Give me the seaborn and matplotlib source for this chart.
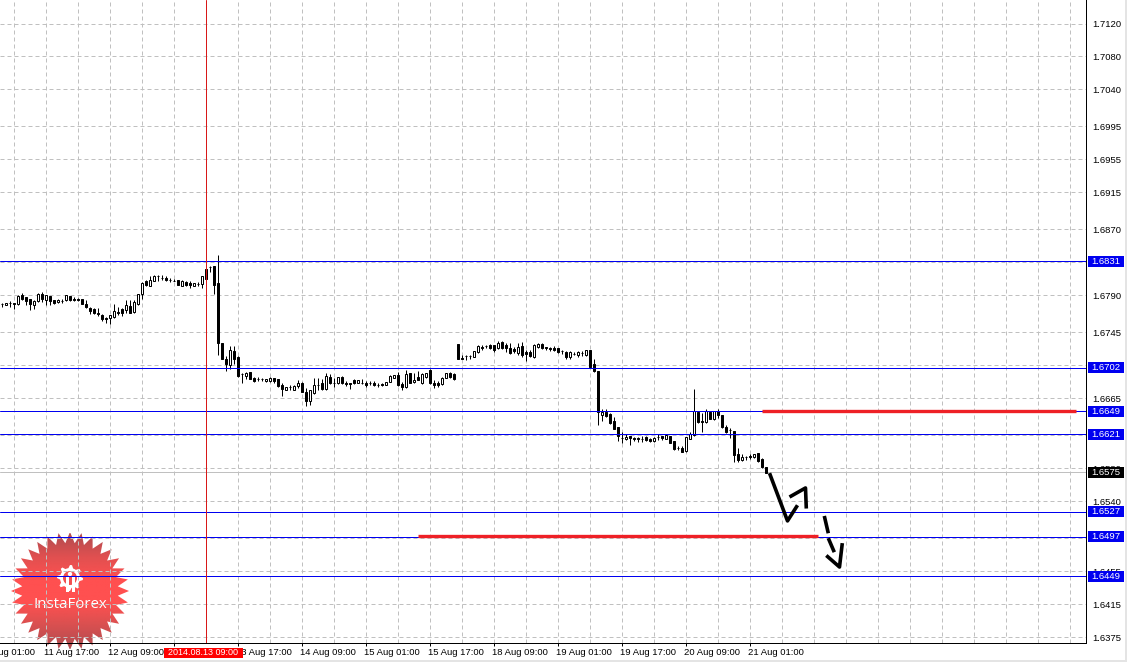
import numpy as np
import pandas as pd
import matplotlib
matplotlib.use("Agg")
import matplotlib.pyplot as plt
from matplotlib.colors import LinearSegmentedColormap
from matplotlib.patches import Polygon, Rectangle, Circle
from matplotlib.transforms import blended_transform_factory
import seaborn as sns

# candles, prices in 1/10000
opens = [
    16779, 16778, 16780, 16780, 16779, 16790, 16788, 16785, 16778, 16783,
    16791, 16784, 16789, 16784, 16782, 16783, 16784, 16789, 16786, 16785,
    16785, 16779, 16775, 16773, 16769, 16766, 16762, 16762, 16763, 16770,
    16773, 16772, 16777, 16770, 16779, 16792, 16807, 16801, 16807, 16813,
    16811, 16811, 16809, 16807, 16809, 16801, 16806, 16805, 16801, 16804,
    16804, 16822, 16824, 16825, 16805, 16732, 16713, 16705, 16722, 16715,
    16694, 16692, 16697, 16689, 16688, 16688, 16686, 16686, 16689, 16688,
    16681, 16675, 16678, 16675, 16680, 16683, 16673, 16662, 16671, 16681,
    16683, 16676, 16691, 16684, 16683, 16691, 16684, 16683, 16687, 16683,
    16683, 16683, 16683, 16683, 16681, 16682, 16681, 16685, 16690, 16693,
    16682, 16678, 16695, 16685, 16691, 16683, 16691, 16699, 16683, 16684,
    16682, 16690, 16696, 16694, 16731, 16714, 16716, 16716, 16715, 16721,
    16727, 16728, 16729, 16729, 16726, 16733, 16729, 16726, 16725, 16720,
    16728, 16721, 16721, 16715, 16727, 16731, 16727, 16726, 16726, 16726,
    16722, 16721, 16715, 16719, 16717, 16720, 16717, 16724, 16706, 16698,
    16645, 16648, 16646, 16637, 16630, 16617, 16615, 16619, 16617, 16617,
    16616, 16618, 16616, 16613, 16618, 16619, 16616, 16619, 16613, 16604,
    16605, 16601, 16616, 16620, 16648, 16637, 16636, 16648, 16640, 16649,
    16645, 16630, 16626, 16625, 16597, 16590, 16593, 16595, 16593, 16598,
    16591, 16581,
]
highs = [
    16781, 16781, 16783, 16781, 16790, 16793, 16788, 16785, 16784, 16793,
    16794, 16790, 16789, 16784, 16785, 16785, 16790, 16789, 16788, 16787,
    16785, 16784, 16776, 16775, 16774, 16767, 16764, 16766, 16779, 16776,
    16774, 16784, 16784, 16784, 16792, 16806, 16808, 16813, 16814, 16814,
    16814, 16813, 16811, 16810, 16809, 16808, 16807, 16807, 16805, 16806,
    16813, 16827, 16826, 16826, 16839, 16732, 16716, 16728, 16728, 16716,
    16696, 16697, 16697, 16691, 16691, 16690, 16688, 16691, 16690, 16688,
    16683, 16679, 16681, 16681, 16687, 16685, 16677, 16675, 16689, 16690,
    16688, 16695, 16694, 16689, 16691, 16692, 16686, 16684, 16688, 16687,
    16688, 16686, 16686, 16686, 16683, 16683, 16685, 16693, 16693, 16697,
    16685, 16699, 16696, 16695, 16698, 16695, 16696, 16700, 16687, 16686,
    16691, 16696, 16697, 16695, 16731, 16718, 16717, 16718, 16722, 16729,
    16730, 16730, 16731, 16730, 16734, 16734, 16732, 16732, 16727, 16732,
    16733, 16723, 16723, 16731, 16732, 16732, 16727, 16727, 16728, 16726,
    16723, 16722, 16722, 16721, 16722, 16722, 16724, 16724, 16712, 16698,
    16652, 16652, 16647, 16642, 16630, 16624, 16621, 16619, 16618, 16618,
    16619, 16619, 16617, 16618, 16622, 16619, 16622, 16619, 16613, 16607,
    16607, 16618, 16624, 16676, 16649, 16647, 16652, 16649, 16650, 16652,
    16645, 16633, 16629, 16625, 16604, 16597, 16595, 16597, 16597, 16598,
    16592, 16581,
]
lows = [
    16776, 16778, 16776, 16773, 16778, 16784, 16778, 16772, 16773, 16782,
    16782, 16778, 16778, 16779, 16780, 16781, 16783, 16783, 16783, 16783,
    16779, 16775, 16767, 16767, 16765, 16759, 16756, 16755, 16762, 16766,
    16765, 16769, 16768, 16769, 16778, 16786, 16801, 16801, 16807, 16807,
    16808, 16807, 16806, 16807, 16802, 16801, 16801, 16799, 16801, 16801,
    16799, 16810, 16818, 16792, 16717, 16712, 16698, 16701, 16707, 16691,
    16684, 16688, 16688, 16685, 16686, 16686, 16685, 16685, 16684, 16678,
    16668, 16675, 16675, 16675, 16677, 16672, 16656, 16657, 16670, 16675,
    16675, 16675, 16682, 16679, 16682, 16682, 16680, 16676, 16682, 16683,
    16682, 16679, 16681, 16680, 16679, 16680, 16681, 16685, 16689, 16680,
    16675, 16677, 16683, 16684, 16687, 16682, 16690, 16682, 16677, 16678,
    16681, 16689, 16690, 16687, 16712, 16712, 16711, 16713, 16715, 16720,
    16724, 16726, 16725, 16721, 16725, 16725, 16721, 16719, 16720, 16717,
    16715, 16710, 16715, 16714, 16726, 16725, 16723, 16722, 16722, 16720,
    16719, 16712, 16713, 16717, 16715, 16716, 16716, 16702, 16697, 16632,
    16637, 16642, 16634, 16627, 16613, 16610, 16614, 16608, 16613, 16612,
    16612, 16613, 16612, 16612, 16614, 16614, 16615, 16611, 16602, 16602,
    16600, 16600, 16615, 16619, 16635, 16624, 16635, 16640, 16639, 16641,
    16629, 16623, 16617, 16588, 16588, 16589, 16590, 16591, 16592, 16588,
    16580, 16574,
]
closes = [
    16779, 16781, 16780, 16779, 16789, 16785, 16783, 16779, 16783, 16792,
    16785, 16790, 16783, 16781, 16784, 16783, 16790, 16784, 16784, 16784,
    16779, 16776, 16771, 16769, 16767, 16761, 16761, 16766, 16771, 16768,
    16768, 16778, 16769, 16782, 16791, 16805, 16803, 16809, 16813, 16813,
    16811, 16809, 16808, 16807, 16803, 16807, 16803, 16802, 16805, 16804,
    16813, 16810, 16824, 16803, 16732, 16713, 16706, 16724, 16712, 16692,
    16694, 16696, 16688, 16686, 16688, 16688, 16688, 16690, 16686, 16680,
    16676, 16679, 16678, 16680, 16683, 16673, 16662, 16675, 16681, 16681,
    16676, 16692, 16683, 16683, 16691, 16683, 16682, 16682, 16683, 16687,
    16683, 16681, 16683, 16681, 16681, 16681, 16685, 16692, 16693, 16681,
    16679, 16694, 16683, 16687, 16687, 16694, 16695, 16683, 16681, 16681,
    16689, 16695, 16691, 16688, 16713, 16713, 16716, 16716, 16722, 16728,
    16726, 16728, 16726, 16723, 16732, 16726, 16726, 16720, 16722, 16727,
    16717, 16719, 16716, 16729, 16731, 16726, 16726, 16725, 16724, 16721,
    16722, 16715, 16721, 16719, 16721, 16720, 16723, 16703, 16698, 16648,
    16648, 16643, 16635, 16628, 16619, 16617, 16618, 16617, 16615, 16615,
    16616, 16614, 16613, 16617, 16618, 16617, 16620, 16611, 16603, 16604,
    16600, 16618, 16621, 16650, 16636, 16636, 16649, 16640, 16649, 16644,
    16630, 16624, 16626, 16596, 16590, 16593, 16593, 16593, 16597, 16589,
    16581, 16574,
]

# levels and labels
level_prices = [1.6831, 1.6702, 1.6649, 1.6621, 1.6527, 1.6497, 1.6449]
current_price = 1.6575
axis_prices = [1.7120, 1.7080, 1.7040, 1.6995, 1.6955, 1.6915, 1.6870, 1.6830, 1.6790, 1.6745,
               1.6705, 1.6665, 1.6620, 1.6580, 1.6540, 1.6495, 1.6455, 1.6415, 1.6375]
date_bars = [-5, 11, 27, 43, 59, 75, 91, 107, 123, 139, 155, 171, 187]
date_labels = ["11 Aug 01:00", "11 Aug 17:00", "12 Aug 09:00", "13 Aug 01:00", "13 Aug 17:00",
               "14 Aug 09:00", "15 Aug 01:00", "15 Aug 17:00", "18 Aug 09:00", "19 Aug 01:00",
               "19 Aug 17:00", "20 Aug 09:00", "21 Aug 01:00"]
grid_bars = [3, 19, 35, 51, 67, 83, 99, 115, 131, 147, 163, 179, 195, 203, 211, 219, 227, 235, 243, 251, 259, 267]
cross_bar = 51
cross_label = "2014.08.13 09:00"

# hand drawn marks on the chart
red_bars = [104, 204.2, 190, 268.5]
red_prices = [1.6498, 1.6498, 1.6649, 1.6649]
red_strokes = [0, 0, 1, 1]
pen_bars = [192, 196.5, 199, 197, 201, 201.2, 205.7, 206.7, 206.7, 208.2, 206.2, 209.5, 210.2]
pen_prices = [1.6574, 1.6516, 1.6535, 1.6545, 1.6556, 1.6531, 1.6522, 1.6501, 1.6495, 1.6478,
              1.6474, 1.6460, 1.6489]
pen_strokes = [0, 0, 0, 1, 1, 1, 2, 2, 3, 3, 4, 4, 4]

W, H = 1127, 662
AX_W, AX_H = 1086, 643
BLUE = "#0000f0"
GRID = "#c0c0c0"
px = 72 / 100
FS = 6.8

sns.set_theme(style="white")
plt.rcParams["font.family"] = ["Liberation Sans", "DejaVu Sans"]

df = pd.DataFrame({"bar": range(len(opens)), "open": opens, "high": highs, "low": lows, "close": closes})
df[["open", "high", "low", "close"]] /= 10000
df["top"] = df[["open", "close"]].max(axis=1)
df["bottom"] = df[["open", "close"]].min(axis=1)
df["face"] = np.where(df["close"] > df["open"], "white", "black")

fig = plt.figure(figsize=(W / 100, H / 100), dpi=100, facecolor="white")

# logo sits behind the chart
logo = fig.add_axes([8 / W, 1 - 652 / H, 124 / W, 124 / H], zorder=0)
logo.set_xlim(8, 132)
logo.set_ylim(652, 528)
logo.axis("off")
cmap = LinearSegmentedColormap.from_list("logo", ["#b04c50", "#e05050", "#ff5050", "#ff5050", "#d85050", "#b04c50"])
img = logo.imshow(np.linspace(0, 1, 200).reshape(-1, 1), cmap=cmap, aspect="auto", extent=(8, 132, 649, 533), zorder=1)
angles = np.linspace(0, 2 * np.pi, 64, endpoint=False)
radii = np.where(np.arange(64) % 2 == 0, 59, 48)
star = Polygon(np.c_[70 + radii * np.cos(angles), 591 + radii * np.sin(angles)], transform=logo.transData, fc="none", ec="none")
logo.add_patch(star)
img.set_clip_path(star)
gear_angles = np.linspace(0, 2 * np.pi, 40, endpoint=False)
gear_radii = np.where(np.arange(40) % 5 < 2, 13, 10)
logo.add_patch(Polygon(np.c_[70 + gear_radii * np.cos(gear_angles), 578 + gear_radii * np.sin(gear_angles)], fc="white", ec="none", zorder=2))
logo.add_patch(Circle((70, 578), 7, fc="#f25050", ec="none", zorder=3))
logo.add_patch(Circle((70, 574), 2.2, fc="white", ec="none", zorder=4))
logo.add_patch(Rectangle((65.5, 577), 3, 15, fc="white", ec="none", zorder=4))
logo.add_patch(Rectangle((71.5, 577), 3, 15, fc="white", ec="none", zorder=4))
logo.text(70, 604, "InstaForex", color="white", fontsize=10.8, ha="center", va="center", family="Open Sans", zorder=5)

ax = fig.add_axes([0, 1 - AX_H / H, AX_W / W, AX_H / H], zorder=1)
ax.patch.set_alpha(0)

# grid first, then candles on top
ax.vlines(df["bar"], df["low"], df["high"], color="black", lw=px, zorder=3)
ax.bar(df["bar"], df["top"] - df["bottom"], bottom=df["bottom"], width=0.5,
       color=df["face"], edgecolor="black", linewidth=px, zorder=3.5)

for p in level_prices:
    ax.axhline(p, color=BLUE, lw=px, zorder=4)
ax.axhline(current_price, color=GRID, lw=px, zorder=2.5)
ax.axvline(cross_bar, color="#d81818", lw=px, zorder=4.5)

red_df = pd.DataFrame({"bar": red_bars, "price": red_prices, "stroke": red_strokes})
sns.lineplot(data=red_df, x="bar", y="price", units="stroke", estimator=None, sort=False,
             color="#ee2026", lw=2.4, ax=ax, zorder=5, solid_capstyle="butt")
pen_df = pd.DataFrame({"bar": pen_bars, "price": pen_prices, "stroke": pen_strokes})
sns.lineplot(data=pen_df, x="bar", y="price", units="stroke", estimator=None, sort=False,
             color="black", lw=2.6, ax=ax, zorder=6, solid_capstyle="butt")

ax.set_xlim(-0.375, 271.125)
ax.set_ylim(1.7120 - (AX_H - 23.5) / 8235, 1.7120 + 23.5 / 8235)
ax.set_xlabel("")
ax.set_ylabel("")

ax.yaxis.tick_right()
ax.set_yticks(axis_prices)
ax.set_yticklabels([f"{p:.4f}" for p in axis_prices], fontsize=FS, color="black")
ax.tick_params(axis="y", length=2.2, width=px, color="black", pad=2.2, left=False, right=True)
ax.set_xticks([b for b in date_bars if b >= 0])
ax.set_xticks(grid_bars, minor=True)
ax.tick_params(axis="x", which="major", length=2.2, width=px, color="black", bottom=True, labelbottom=False)
ax.tick_params(axis="x", which="minor", length=0)
ax.grid(True, which="both", color=GRID, lw=px, linestyle=(0, (4, 3)), zorder=1)
ax.set_axisbelow(True)
sns.despine(ax=ax, left=True, top=True, right=False, bottom=False)
for side in ["right", "bottom"]:
    ax.spines[side].set_color("black")
    ax.spines[side].set_linewidth(px)
    ax.spines[side].set_zorder(7)

# date labels start at their tick
x_trans = blended_transform_factory(ax.transData, fig.transFigure)
for b, lab in zip(date_bars, date_labels):
    ax.text(b - 0.5, 1 - 652.5 / H, lab, transform=x_trans, fontsize=FS, color="black",
            ha="left", va="center", clip_on=False)
ax.add_patch(Rectangle((164 / AX_W, -15 / AX_H), 79 / AX_W, 10.5 / AX_H, transform=ax.transAxes,
                       fc="#ff0000", ec="none", clip_on=False, zorder=8))
ax.text(203.5 / AX_W, -9.7 / AX_H, cross_label, transform=ax.transAxes, fontsize=6.5, color="white",
        ha="center", va="center", clip_on=False, zorder=9)

# price boxes on the right
y_trans = ax.get_yaxis_transform()
box_h = 11 / 8235
for p, c in [(v, BLUE) for v in level_prices] + [(current_price, "black")]:
    ax.add_patch(Rectangle((1088 / AX_W, p - box_h / 2), 36 / AX_W, box_h, transform=y_trans,
                           fc=c, ec="none", clip_on=False, zorder=8))
    ax.text(1106 / AX_W, p, f"{p:.4f}", transform=y_trans, fontsize=FS, color="white",
            ha="center", va="center", clip_on=False, zorder=9)

# window border strips
fig.add_artist(Rectangle((1 - 2 / W, 0), 2 / W, 1, transform=fig.transFigure, fc="#e4e4e4", ec="none"))
fig.add_artist(Rectangle((0, 0), 1, 2 / H, transform=fig.transFigure, fc="#e4e4e4", ec="none"))

fig.savefig("out.png", dpi=100)
